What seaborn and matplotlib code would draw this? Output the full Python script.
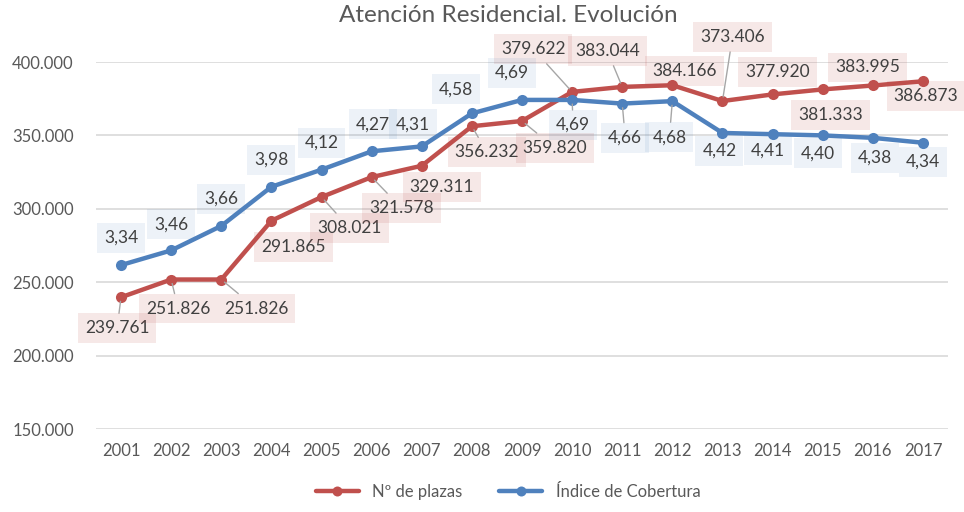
import matplotlib
matplotlib.use("Agg")
import matplotlib.pyplot as plt
import matplotlib.ticker as mticker
import pandas as pd
import seaborn as sns

# data
years = list(range(2001, 2018))
plazas = [239761, 251826, 251826, 291865, 308021, 321578, 329311, 356232, 359820,
          379622, 383044, 384166, 373406, 377920, 381333, 383995, 386873]
cobertura = [3.34, 3.46, 3.66, 3.98, 4.12, 4.27, 4.31, 4.58, 4.69,
             4.69, 4.66, 4.68, 4.42, 4.41, 4.40, 4.38, 4.34]

# label placement (pixel offsets from the point) and leader lines
red_off = [(-4, 31), (7, 29), (35, 29), (22, 26), (28, 31), (30, 31), (20, 21), (15, 26), (33, 27),
           (-39, -43), (-15, -36), (12, -14), (10, -64), (5, -22), (8, 26), (-5, -18), (3, 15)]
red_leader = [1, 1, 1, 0, 1, 1, 0, 1, 1, 1, 1, 0, 1, 0, 0, 0, 0]
blue_off = [(0, -27), (0, -26), (0, -27), (0, -27), (0, -27), (1, -27), (-9, -22), (-16, -24), (-10, -27),
            (1, 25), (3, 34), (-3, 36), (-3, 18), (-5, 16), (-5, 18), (2, 20), (0, 19)]
blue_leader = [0, 0, 0, 0, 0, 0, 0, 0, 0, 1, 1, 1, 0, 0, 0, 0, 0]

RED = "#C0504D"
BLUE = "#4F81BD"
TXT = "#404040"

df = pd.DataFrame({"year": years, "plazas": plazas, "cobertura": cobertura})

sns.set_theme(style="white")
plt.rcParams["font.family"] = ["Lato", "DejaVu Sans"]

fig = plt.figure(figsize=(9.64, 5.12), dpi=100)
ax = fig.add_axes([96 / 964, 1 - 429 / 512, 852 / 964, 367 / 512])
ax2 = ax.twinx()

sns.lineplot(data=df, x="year", y="plazas", ax=ax, color=RED, lw=3.2, marker="o",
             markersize=8, markeredgewidth=0, label="Nº de plazas", legend=False)
sns.lineplot(data=df, x="year", y="cobertura", ax=ax2, color=BLUE, lw=3.2, marker="o",
             markersize=8, markeredgewidth=0, label="Índice de Cobertura", legend=False)

ax.set_xlim(2000.5, 2017.5)
ax.set_ylim(150000, 400000)
ax2.set_ylim(2, 5)
ax.set_xticks(years)
ax.set_xticklabels([str(y) for y in years])
ax.set_yticks(range(150000, 400001, 50000))
ax.yaxis.set_major_formatter(mticker.FuncFormatter(lambda v, p: f"{int(v):,}".replace(",", ".")))
ax.tick_params(axis="both", length=0, labelsize=12, colors="#595959")
ax.tick_params(axis="y", pad=16)
ax.tick_params(axis="x", pad=10)
ax.set_xlabel("")
ax.set_ylabel("")
ax2.set_ylabel("")
ax2.set_yticks([])
ax.grid(axis="y", color="#D9D9D9", lw=1.2)
for a in (ax, ax2):
    for s in a.spines.values():
        s.set_visible(False)


def put_labels(xs, vals, texts, offs, leaders, fc, trans):
    for x, v, t, (dx, dy), ld in zip(xs, vals, texts, offs, leaders):
        props = dict(arrowstyle="-", color="#A6A6A6", lw=1, shrinkA=0, shrinkB=3) if ld else None
        ax2.annotate(t, xy=(x, v), xycoords=trans, xytext=(dx, -dy), textcoords="offset pixels",
                     ha="center", va="center", fontsize=12.5, color=TXT, zorder=10,
                     bbox=dict(boxstyle="square,pad=0.4", fc=fc, ec="none"),
                     arrowprops=props)


put_labels(years, plazas, [f"{v:,}".replace(",", ".") for v in plazas], red_off, red_leader,
           (0.75, 0.31, 0.30, 0.13), ax.transData)
put_labels(years, cobertura, [f"{v:.2f}".replace(".", ",") for v in cobertura], blue_off, blue_leader,
           (0.31, 0.51, 0.74, 0.10), ax2.transData)

fig.suptitle("Atención Residencial. Evolución", x=0.527, y=0.99, fontsize=17.5, color="#595959")

h1, l1 = ax.get_legend_handles_labels()
h2, l2 = ax2.get_legend_handles_labels()
fig.legend(h1 + h2, l1 + l2, loc="lower center", bbox_to_anchor=(0.527, -0.005), ncol=2,
           frameon=False, fontsize=12, labelcolor="#595959", handlelength=2.6, columnspacing=2.2,
           markerscale=0.9)

fig.savefig("out.png", dpi=100)
